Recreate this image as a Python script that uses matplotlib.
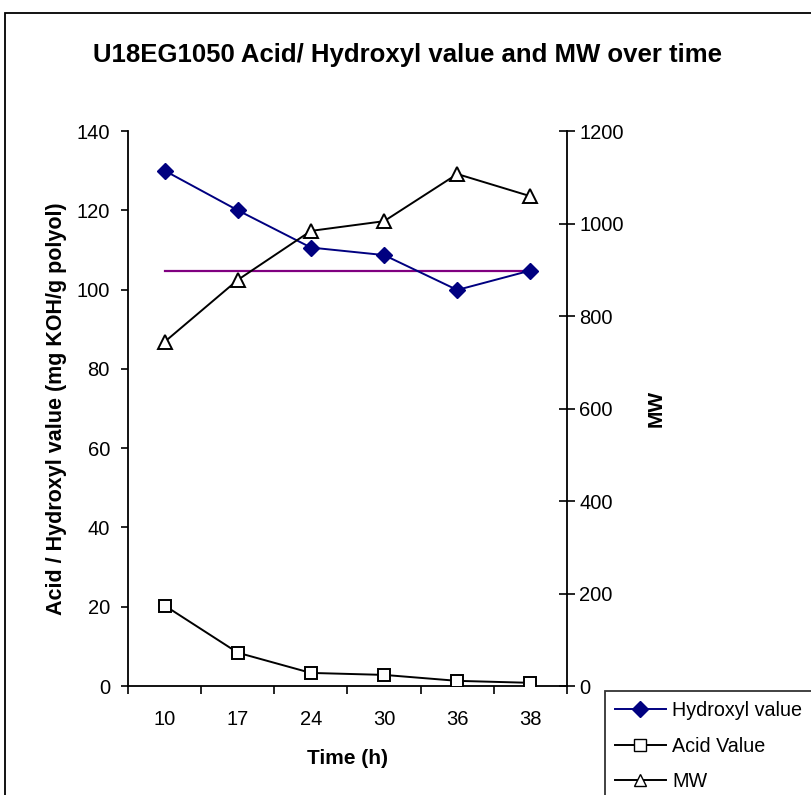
"""Acid / hydroxyl value and MW of U18EG1050 over reaction time."""

import matplotlib

matplotlib.use("Agg")
import matplotlib.pyplot as plt
from matplotlib.lines import Line2D
from matplotlib.patches import Rectangle
import numpy as np

plt.rcParams["font.family"] = ["Liberation Sans", "DejaVu Sans"]

time_labels = ["10", "17", "24", "30", "36", "38"]
hydroxyl_value = [130.0, 120.0, 110.6, 108.7, 99.9, 104.8]
acid_value = [20.3, 8.4, 3.3, 2.8, 1.3, 0.8]
mw_value = [744, 878, 984, 1005, 1107, 1059]
hydroxyl_target = 104.8

x = np.arange(len(time_labels))

fig = plt.figure(figsize=(8.12, 7.95), dpi=100)
ax = fig.add_axes([128 / 812, 1 - 686 / 795, (567 - 128) / 812, (686 - 131) / 795])
ax2 = ax.twinx()

navy = "#000080"
ax.plot(x, hydroxyl_value, color=navy, lw=1.4, marker="D", ms=8,
        mfc=navy, mec=navy, zorder=4)
ax.plot(x, acid_value, color="black", lw=1.4, marker="s", ms=8.5,
        mfc="white", mec="black", mew=1.4, zorder=4)
ax.plot([x[0], x[-1]], [hydroxyl_target] * 2, color="#800080", lw=1.6, zorder=3)
ax2.plot(x, mw_value, color="black", lw=1.4, marker="^", ms=10,
         mfc="white", mec="black", mew=1.4, zorder=4)

ax.set_xlim(-0.5, len(x) - 0.5)
ax.set_ylim(0, 140)
ax.set_yticks(np.arange(0, 141, 20))
ax2.set_ylim(0, 1200)
ax2.set_yticks(np.arange(0, 1201, 200))

ax.set_xticks(x)
ax.set_xticklabels(time_labels)
ax.set_xticks(np.arange(-0.5, len(x)), minor=True)
ax.tick_params(axis="x", which="major", length=0, labelsize=14.5, pad=17)
ax.tick_params(axis="x", which="minor", length=6, width=1.2, direction="out")
ax.tick_params(axis="y", length=5, width=1.2, direction="out", labelsize=14.5, pad=8)
ax2.tick_params(axis="y", length=12, width=1.2, direction="inout", labelsize=14.5, pad=3)

for a in (ax, ax2):
    a.spines["top"].set_visible(False)
    for side in ("left", "right", "bottom"):
        a.spines[side].set_linewidth(1.3)
ax.spines["right"].set_visible(False)
ax2.spines["left"].set_visible(False)
ax2.spines["bottom"].set_visible(False)

ax.set_xlabel("Time (h)", fontsize=15, fontweight="bold", labelpad=15)
ax.set_ylabel("Acid / Hydroxyl value (mg KOH/g polyol)", fontsize=15.5,
              fontweight="bold", labelpad=7)
ax2.set_ylabel("MW", fontsize=15, fontweight="bold", labelpad=16)

fig.text(407.5 / 812, 1 - 55 / 795,
         "U18EG1050 Acid/ Hydroxyl value and MW over time",
         ha="center", va="center", fontsize=18.5, fontweight="bold")

# outer chart-area frame, cut off on the right and bottom
fig.patches.append(Rectangle((5 / 812, -0.1), 1.0, 1.1 - 13 / 795,
                             transform=fig.transFigure, fill=False,
                             edgecolor="black", lw=1.3))

handles = [
    Line2D([], [], color=navy, lw=1.4, marker="D", ms=8, mfc=navy, mec=navy),
    Line2D([], [], color="black", lw=1.4, marker="s", ms=8, mfc="white", mec="black"),
    Line2D([], [], color="black", lw=1.4, marker="^", ms=9, mfc="white", mec="black"),
]
leg = fig.legend(handles, ["Hydroxyl value", "Acid Value", "MW"],
                 loc="upper left", bbox_to_anchor=(605 / 812, 1 - 691 / 795),
                 fontsize=14.2, frameon=True, fancybox=False, handlelength=2.6,
                 borderaxespad=0, borderpad=0.5, labelspacing=0.85,
                 handletextpad=0.3)
leg.get_frame().set_edgecolor("black")
leg.get_frame().set_linewidth(1.3)

fig.savefig("out.png")
plt.close(fig)
